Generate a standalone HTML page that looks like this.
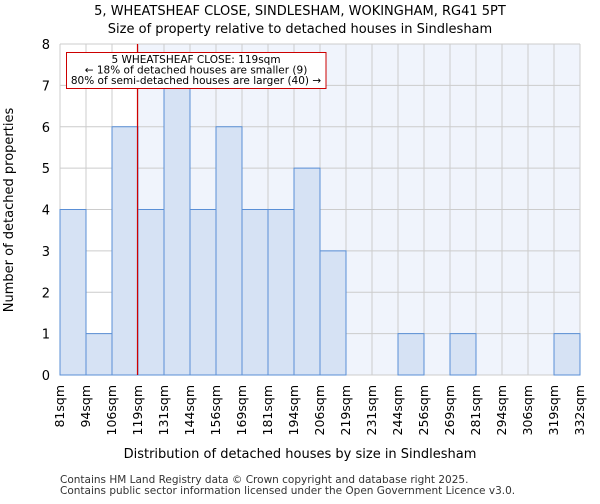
<!DOCTYPE html>
<html><head><meta charset="utf-8"><style>
body{margin:0;background:#fff;font-family:"DejaVu Sans","Liberation Sans",sans-serif}
</style></head><body>
<svg width="600" height="500" xmlns="http://www.w3.org/2000/svg" font-family="DejaVu Sans, Liberation Sans, sans-serif">
<text x="300" y="15" text-anchor="middle" font-size="13">5, WHEATSHEAF CLOSE, SINDLESHAM, WOKINGHAM, RG41 5PT</text>
<text x="300" y="33" text-anchor="middle" font-size="13">Size of property relative to detached houses in Sindlesham</text>
<g id="plot"></g>
<text x="300" y="458" text-anchor="middle" font-size="13">Distribution of detached houses by size in Sindlesham</text>
<text transform="translate(13,210) rotate(-90)" text-anchor="middle" font-size="13">Number of detached properties</text>
<text x="60" y="483" font-size="10.5" fill="#333">Contains HM Land Registry data © Crown copyright and database right 2025.</text>
<text x="60" y="494" font-size="10.5" fill="#333">Contains public sector information licensed under the Open Government Licence v3.0.</text>
</svg>
<script>
const categories=["81sqm","94sqm","106sqm","119sqm","131sqm","144sqm","156sqm","169sqm","181sqm","194sqm","206sqm","219sqm","231sqm","244sqm","256sqm","269sqm","281sqm","294sqm","306sqm","319sqm","332sqm"];
const values=[4,1,6,4,7,4,6,4,4,5,3,0,0,1,0,1,0,0,0,1];
const yTicks=[0,1,2,3,4,5,6,7,8];
const markerIndex=3;
const NS="http://www.w3.org/2000/svg";
const g=document.getElementById('plot');
const L=60,R=580,T=44,B=375;
const bw=(R-L)/values.length;
const x=i=>L+i*bw;
const y=v=>B-(v/8)*(B-T);
function mk(t,a,p){const e=document.createElementNS(NS,t);for(const k in a)e.setAttribute(k,a[k]);(p||g).appendChild(e);return e;}
let e;
e=mk('rect',{x:x(markerIndex),y:T,width:R-x(markerIndex),height:B-T,fill:'#f0f4fc'});


for(let i=0;i<=values.length;i++){e=mk('line',{x1:x(i),x2:x(i),y1:T,y2:B,stroke:'#ccc','stroke-width':1});

}
yTicks.forEach(t=>{e=mk('line',{x1:L,x2:R,y1:y(t),y2:y(t),stroke:'#ccc','stroke-width':1});


e=mk('text',{x:L-10,y:y(t)+5,'text-anchor':'end','font-size':13});e.textContent=t;

});
values.forEach((v,i)=>{if(v<=0)return;e=mk('rect',{x:x(i),y:y(v),width:bw,height:B-y(v),fill:'#d6e2f4',stroke:'#5a8fd6','stroke-width':1});

});
categories.forEach((c,i)=>{e=mk('text',{transform:`translate(${x(i)+4},${B+10}) rotate(-90)`,'text-anchor':'end','font-size':12.5});e.textContent=c;

});
e=mk('line',{x1:x(markerIndex)-0.5,x2:x(markerIndex)-0.5,y1:T,y2:B,stroke:'#d00000','stroke-width':1.2});


e=mk('rect',{x:66.5,y:52.5,width:259.5,height:36,fill:'#fff',stroke:'#c00','stroke-width':1});


["5 WHEATSHEAF CLOSE: 119sqm","← 18% of detached houses are smaller (9)","80% of semi-detached houses are larger (40) →"].forEach((s,i)=>{
e=mk('text',{x:196,y:63+i*10.5,'text-anchor':'middle','font-size':10.5});e.textContent=s;

});
</script>
</body></html>
